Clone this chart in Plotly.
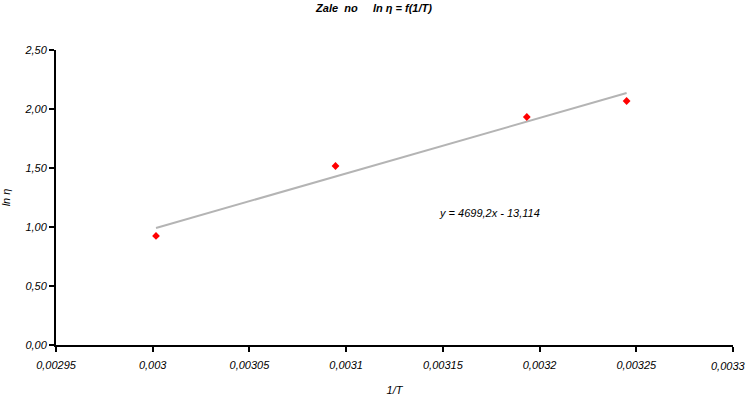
import plotly.graph_objects as go

inv_T = [0.0030017, 0.0030945, 0.0031934, 0.003245]
ln_eta = [0.924, 1.517, 1.932, 2.068]
slope = 4699.2
intercept = -13.114
x_ticks = [0.00295, 0.003, 0.00305, 0.0031, 0.00315, 0.0032, 0.00325, 0.0033]
x_tick_labels = ["0,00295", "0,003", "0,00305", "0,0031", "0,00315", "0,0032", "0,00325", "0,0033"]
y_ticks = [0, 0.5, 1.0, 1.5, 2.0, 2.5]
y_tick_labels = ["0,00", "0,50", "1,00", "1,50", "2,00", "2,50"]

trend_x = [min(inv_T), max(inv_T)]
trend_y = [slope * v + intercept for v in trend_x]

FAM = "Liberation Sans, Arial, sans-serif"
font_it = dict(family=FAM, size=11, color="black", style="italic")

fig = go.Figure()
fig.add_trace(go.Scatter(x=trend_x, y=trend_y, mode="lines",
                         line=dict(color="#b4b4b4", width=2), showlegend=False))
fig.add_trace(go.Scatter(x=inv_T, y=ln_eta, mode="markers",
                         marker=dict(symbol="diamond", color="red", size=6), showlegend=False))

fig.add_annotation(x=0.0031739, y=1.119, xref="x", yref="y",
                   text="y = 4699,2x - 13,114", showarrow=False, font=font_it)

# last x tick label drawn right-aligned so it stays inside the page
shown_tick_text = x_tick_labels[:-1] + [""]
fig.add_annotation(x=1, xref="paper", xanchor="right", xshift=15,
                   y=0, yref="paper", yanchor="top", yshift=-13,
                   text=x_tick_labels[-1], showarrow=False, font=font_it)

fig.update_layout(
    width=748, height=396,
    margin=dict(l=56, r=15, t=50, b=51),
    plot_bgcolor="white", paper_bgcolor="white",
    separators=",.",
    title=dict(text="<b>Zale  no     ln η = f(1/T)</b>", x=0.5, xanchor="center",
               y=0.99, yanchor="top",
               font=dict(family=FAM, size=11, color="black", style="italic")),
    xaxis=dict(range=[0.00295, 0.0033], tickvals=x_ticks, ticktext=shown_tick_text,
               showgrid=False, zeroline=False, showline=True, linecolor="black", linewidth=2,
               ticks="outside", ticklen=5, tickwidth=2, tickcolor="black",
               tickfont=font_it, automargin=False, ticklabeloverflow="allow",
               ticklabelstandoff=4,
               title=dict(text="1/T", font=font_it, standoff=18)),
    yaxis=dict(range=[0, 2.5], tickvals=y_ticks, ticktext=y_tick_labels,
               showgrid=False, zeroline=False, showline=True, linecolor="black", linewidth=2,
               ticks="outside", ticklen=5, tickwidth=2, tickcolor="black",
               tickfont=font_it, automargin=False,
               title=dict(text="ln η", font=font_it, standoff=12)),
)

fig.write_html("out.html", config={"displayModeBar": False},
               post_script="document.body.style.margin='0';document.body.style.overflow='hidden';")
